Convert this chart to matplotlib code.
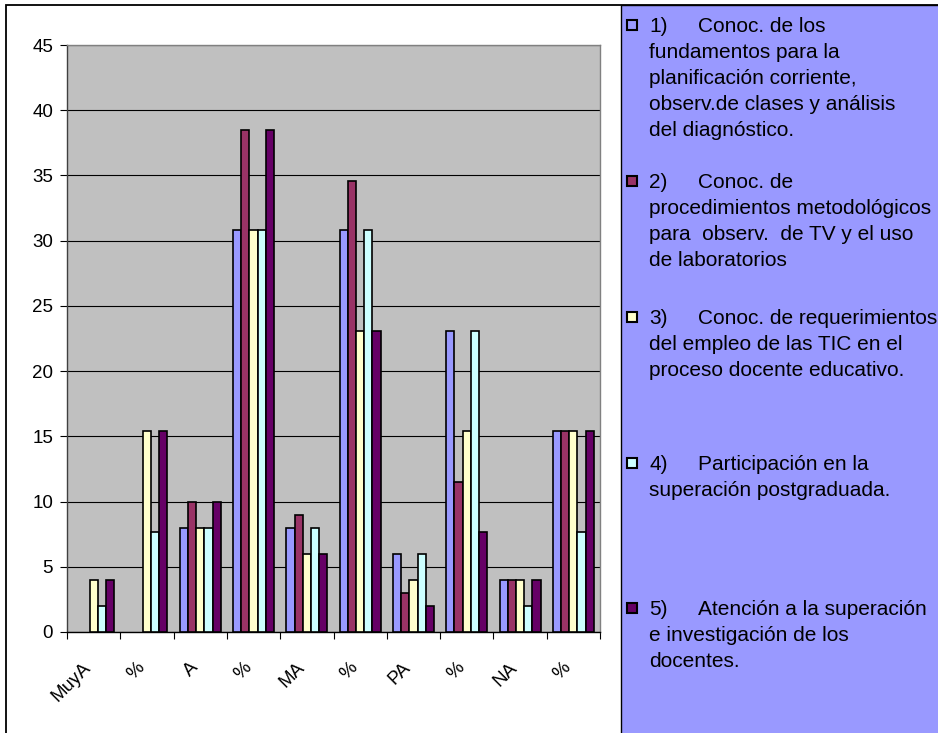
import numpy as np
import matplotlib
matplotlib.use("Agg")
import matplotlib.pyplot as plt
from matplotlib.patches import Rectangle
from matplotlib.transforms import ScaledTranslation

plt.rcParams['font.family'] = ['Liberation Sans', 'DejaVu Sans']

categories = ["MuyA", "%", "A", "%", "MA", "%", "PA", "%", "NA", "%"]

s1 = [0, 0, 8, 30.8, 8, 30.8, 6, 23.1, 4, 15.4]
s2 = [0, 0, 10, 38.5, 9, 34.6, 3, 11.5, 4, 15.4]
s3 = [4, 15.4, 8, 30.8, 6, 23.1, 4, 15.4, 4, 15.4]
s4 = [2, 7.7, 8, 30.8, 8, 30.8, 6, 23.1, 2, 7.7]
s5 = [4, 15.4, 10, 38.5, 6, 23.1, 2, 7.7, 4, 15.4]

series_labels = [
    "1)|Conoc. de los\nfundamentos para la\nplanificación corriente,\nobserv.de clases y análisis\ndel diagnóstico.",
    "2)|Conoc. de\nprocedimientos metodológicos\npara  observ.  de TV y el uso\nde laboratorios",
    "3)|Conoc. de requerimientos\ndel empleo de las TIC en el\nproceso docente educativo.",
    "4)|Participación en la\nsuperación postgraduada.",
    "5)|Atención a la superación\ne investigación de los\ndocentes.",
]
series_colors = ["#9999FF", "#993366", "#FFFFCC", "#CCFFFF", "#660066"]

yticks = [0, 5, 10, 15, 20, 25, 30, 35, 40, 45]

W, H = 938, 733
fig = plt.figure(figsize=(W / 100, H / 100), dpi=100)


def fx(px):
    return px / W


def fy(py):
    return 1 - py / H


# outer chart frame (runs off the canvas at right and bottom)
fig.add_artist(Rectangle((fx(6), -0.1), 2, fy(5) + 0.1, transform=fig.transFigure,
                         fill=False, ec="black", lw=1.3, zorder=0))

ax = fig.add_axes([fx(67), fy(632), (600 - 67) / W, (632 - 45) / H])
ax.set_facecolor("#C0C0C0")

all_series = [s1, s2, s3, s4, s5]
n = len(all_series)
width = 1 / 6.5
x = np.arange(len(categories))
for j, (vals, col) in enumerate(zip(all_series, series_colors)):
    lws = [1.2 if v > 0 else 0 for v in vals]
    ax.bar(x + (j - (n - 1) / 2) * width, vals, width=width, color=col,
           edgecolor="black", linewidth=lws, zorder=3)

ax.set_xlim(-0.5, len(categories) - 0.5)
ax.set_ylim(0, 45)
ax.set_yticks(yticks)
ax.set_yticklabels([str(v) for v in yticks], fontsize=13.5)
ax.yaxis.grid(True, color="black", linewidth=0.8, zorder=1)
ax.set_axisbelow(True)
ax.tick_params(axis="y", direction="out", length=5, width=0.8, pad=5)

# category boundary ticks, labels centred on the categories
ax.set_xticks(np.arange(-0.5, len(categories), 1))
ax.set_xticklabels([])
ax.tick_params(axis="x", which="major", direction="out", length=5, width=0.8)
ax.set_xticks(x, minor=True)
ax.set_xticklabels(categories, minor=True, fontsize=13.5)
ax.tick_params(axis="x", which="minor", length=0, pad=24)
shift = ScaledTranslation(-5 / 100, 0, fig.dpi_scale_trans)
for lab in ax.get_xticklabels(minor=True):
    lab.set_rotation(45)
    lab.set_ha("right")
    lab.set_va("center")
    lab.set_rotation_mode("anchor")
    lab.set_transform(lab.get_transform() + shift)

for side in ["top", "right", "left"]:
    ax.spines[side].set_color("#808080")
    ax.spines[side].set_linewidth(1.0)
ax.spines["left"].set_color("#404040")
ax.spines["bottom"].set_color("black")
ax.spines["bottom"].set_linewidth(1.0)

# legend panel
fig.add_artist(Rectangle((fx(621), -0.1), 1, fy(5) + 0.1, transform=fig.transFigure,
                         fc="#9999FF", ec="black", lw=1.0, zorder=1))

first_baselines = [32.3, 188.3, 324, 470, 615]
step = 25.8
fs = 15
for lbl, col, yb in zip(series_labels, series_colors, first_baselines):
    lines = lbl.split("\n")
    num, rest = lines[0].split("|")
    fig.add_artist(Rectangle((fx(627), fy(yb - 2)), 10 / W, 10 / H, transform=fig.transFigure,
                             fc=col, ec="black", lw=1.5, zorder=2))
    fig.text(fx(649), fy(yb), num, fontsize=fs, va="baseline", ha="left", zorder=3)
    fig.text(fx(698), fy(yb), rest, fontsize=fs, va="baseline", ha="left", zorder=3)
    for i, line in enumerate(lines[1:], start=1):
        fig.text(fx(649), fy(yb + i * step), line, fontsize=fs, va="baseline",
                 ha="left", zorder=3)

fig.savefig("out.png", dpi=100, facecolor="white")
